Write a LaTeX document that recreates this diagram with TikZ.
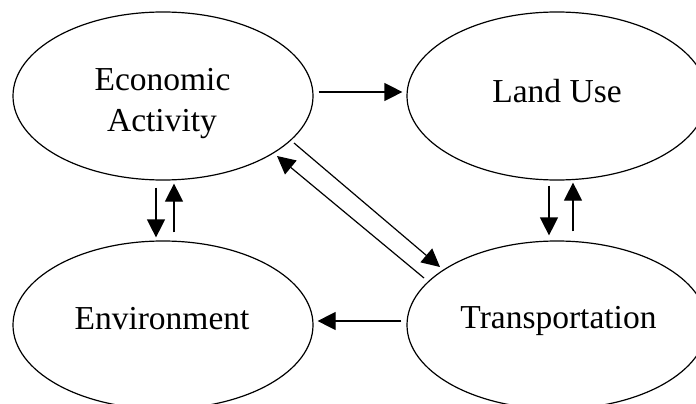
\documentclass[tikz,border=0pt]{standalone}
\usepackage{fontspec}
\setmainfont{Liberation Serif}
\usetikzlibrary{arrows.meta,shapes.geometric}

\tikzset{
  bubble/.style={draw, ellipse, line width=1.2pt, minimum width=300pt,
                 minimum height=168pt, inner sep=0pt},
  caption/.style={anchor=base, inner sep=0pt,
                  font=\fontsize{33.5}{40}\selectfont},
  arr/.style={line width=1.2pt, -{Triangle[length=18pt,width=18pt]}}
}

\begin{document}
\begin{tikzpicture}[x=1pt, y=-1pt]
  \useasboundingbox (0,0) rectangle (696,404);
  \clip (0,0) rectangle (696,404);

  % the four ellipses
  \node[bubble] (econ)  at (163,96)  {};
  \node[bubble] (land)  at (557,96)  {};
  \node[bubble] (env)   at (163,325) {};
  \node[bubble] (trans) at (557,325) {};

  % their labels
  \node[caption] (econ1) at (162.5,90) {Economic};
  \node[caption] (econ2) at (162,131)  {Activity};
  \node[caption] (landt) at (557,102)  {Land Use};
  \node[caption] (envt)  at (162,329)  {Environment};
  \node[caption] (trant) at (558.5,328) {Transportation};

  % economic activity -> land use
  \draw[arr] ([shift={(5,-4)}]econ.east) -- ([shift={(-4,-4)}]land.west);
  % transportation -> environment
  \draw[arr] ([shift={(-5,-4)}]trans.west) -- ([shift={(4,-4)}]env.east);

  % economic activity <-> environment
  \draw[arr] ([shift={(-7,7)}]econ.south) -- ([shift={(-7,-3)}]env.north);
  \draw[arr] ([shift={(11,-8)}]env.north) -- ([shift={(11,3)}]econ.south);

  % land use <-> transportation
  \draw[arr] ([shift={(-8,5)}]land.south) -- ([shift={(-8,-5)}]trans.north);
  \draw[arr] ([shift={(16,-9)}]trans.north) -- ([shift={(16,2)}]land.south);

  % economic activity <-> transportation
  \draw[arr] ([shift={(131,47)}]econ.center) -- ([shift={(-117,-58)}]trans.center);
  \draw[arr] ([shift={(-133,-47)}]trans.center) -- ([shift={(114,60)}]econ.center);
\end{tikzpicture}
\end{document}
